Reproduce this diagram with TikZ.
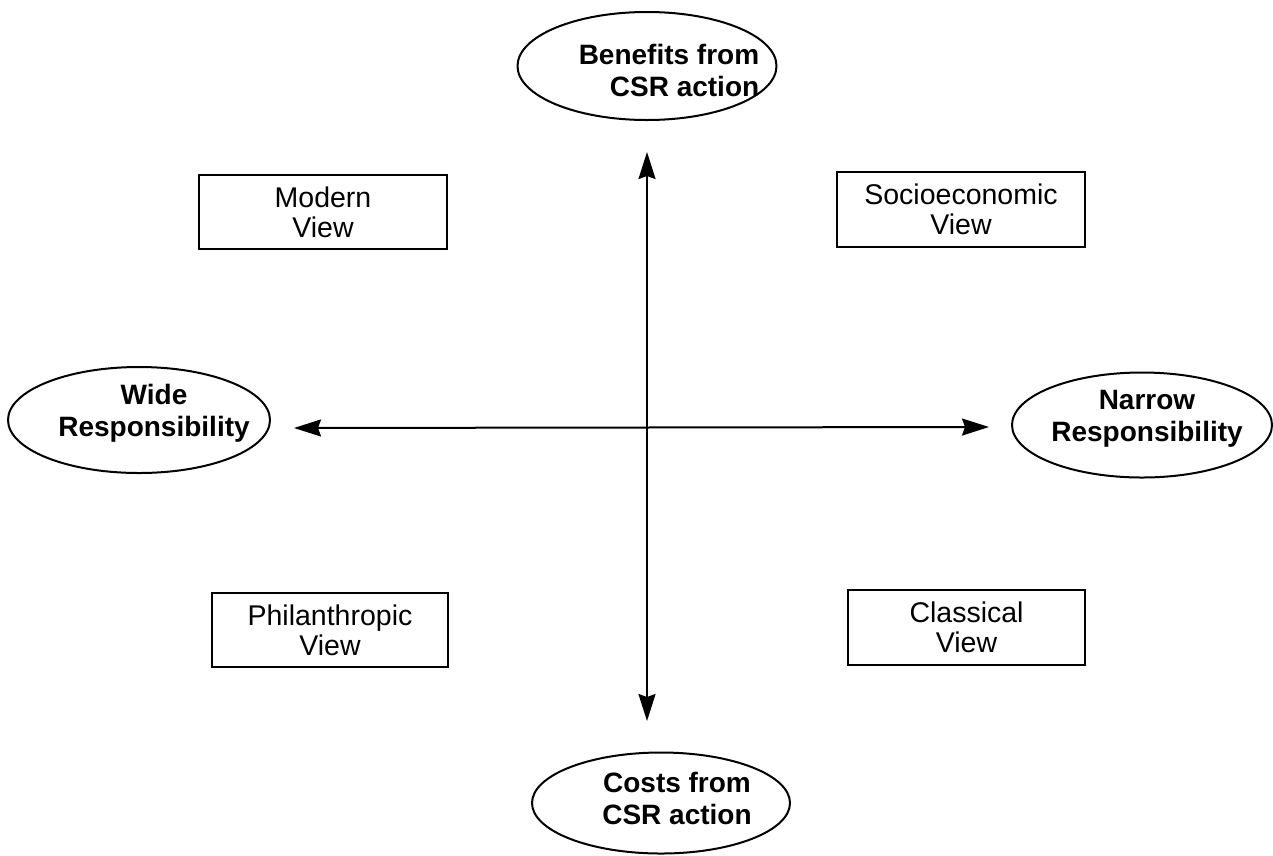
\documentclass[tikz,border=0pt]{standalone}
\usepackage{fontspec}
\setmainfont{Liberation Sans}
\usetikzlibrary{shapes.geometric,arrows.meta}
\begin{document}
\begin{tikzpicture}[x=1pt,y=-1pt,
  oval/.style={draw,line width=2pt,ellipse,inner sep=0pt},
  ovaltext/.style={font=\fontsize{28}{32}\selectfont\bfseries,inner sep=0pt},
  viewbox/.style={draw,line width=2.4pt,rectangle,inner sep=0pt,align=center,
    font=\fontsize{28.5}{30}\selectfont},
  axis/.style={line width=2pt,{Stealth[length=27pt,width=17pt,inset=3pt]}-{Stealth[length=27pt,width=17pt,inset=3pt]}}]
\useasboundingbox (0,0) rectangle (1273,855);
% ellipses
\node[oval,minimum width=259pt,minimum height=108pt] (benefits) at (647,66) {};
\node[oval,minimum width=258pt,minimum height=101pt] (costs) at (661,803) {};
\node[oval,minimum width=262pt,minimum height=106pt] (wide) at (139,420) {};
\node[oval,minimum width=260pt,minimum height=105pt] (narrow) at (1142,425) {};
% ellipse texts
\node[ovaltext,align=right] (benefitsT) at (669,70) {Benefits from\\CSR action};
\node[ovaltext,align=center] (costsT) at (677,798) {Costs from\\CSR action};
\node[ovaltext,align=center] (wideT) at (154,413) {Wide\\Responsibility};
\node[ovaltext,align=center] (narrowT) at (1147,419) {Narrow\\Responsibility};
% boxes
\node[viewbox,minimum width=248pt,minimum height=74pt] (modern) at (323,212) {Modern\\View};
\node[viewbox,minimum width=248pt,minimum height=75pt] (socio) at (961,209.5) {Socioeconomic\\View};
\node[viewbox,minimum width=236pt,minimum height=74pt] (phil) at (330,630) {Philanthropic\\View};
\node[viewbox,minimum width=237pt,minimum height=75pt] (classical) at (966.5,627.5) {Classical\\View};
% axes
\coordinate (vtop) at (647,152);
\coordinate (vbot) at (647,721);
\coordinate (hleft) at (294,428);
\coordinate (hright) at (989,427);
\draw[axis] (vtop) -- (vbot);
\draw[axis] (hleft) -- (hright);
\end{tikzpicture}
\end{document}
